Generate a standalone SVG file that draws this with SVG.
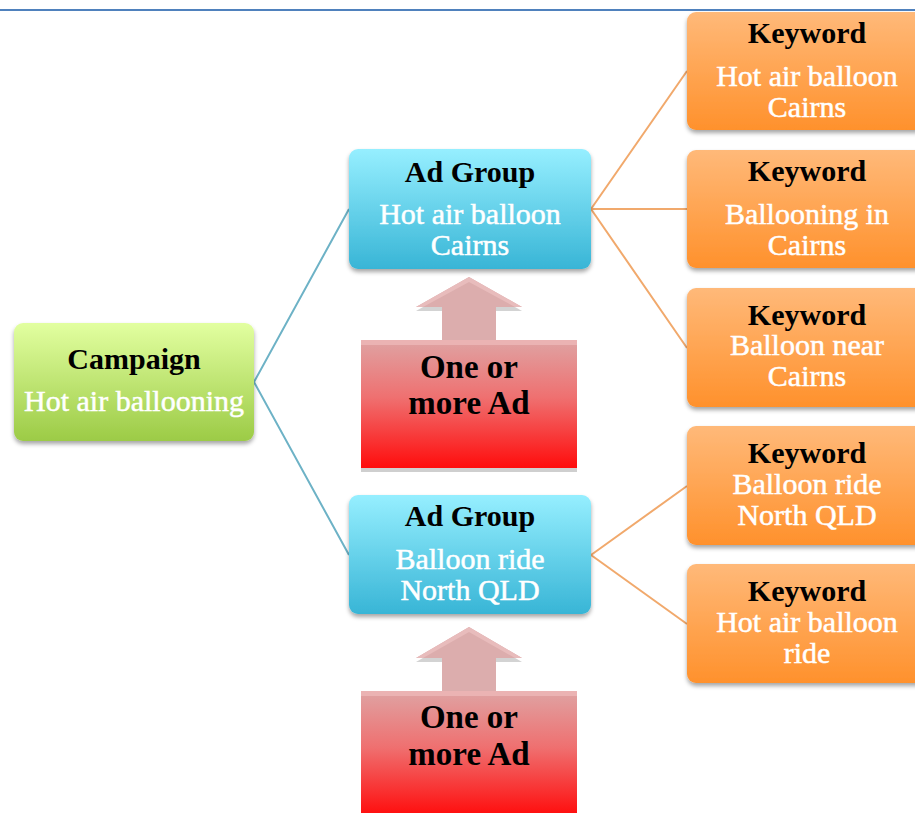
<svg xmlns="http://www.w3.org/2000/svg" width="915" height="813" viewBox="0 0 915 813">
<defs>
<linearGradient id="gGreen" x1="0" y1="0" x2="0" y2="1"><stop offset="0" stop-color="#e2ffa0"/><stop offset="1" stop-color="#9ccb46"/></linearGradient>
<linearGradient id="gBlue" x1="0" y1="0" x2="0" y2="1"><stop offset="0" stop-color="#96efff"/><stop offset="1" stop-color="#38b5d6"/></linearGradient>
<linearGradient id="gOrange" x1="0" y1="0" x2="0" y2="1"><stop offset="0" stop-color="#ffb979"/><stop offset="1" stop-color="#ff912c"/></linearGradient>
<linearGradient id="gRed" x1="0" y1="0" x2="0" y2="1"><stop offset="0" stop-color="#dfa3a3"/><stop offset="0.45" stop-color="#ef7070"/><stop offset="1" stop-color="#ff0c0c"/></linearGradient>
<filter id="sh" x="-10%" y="-10%" width="120%" height="130%"><feDropShadow dx="0" dy="3" stdDeviation="2" flood-color="#000" flood-opacity="0.35"/></filter>
</defs>
<style>
.t{font-family:"Liberation Serif","Times New Roman",serif;font-size:30px;font-weight:bold;fill:#000;text-anchor:middle}
.w{font-family:"Liberation Serif","Times New Roman",serif;font-size:30px;fill:#fff;stroke:#fff;stroke-width:0.5;text-anchor:middle}
.big{font-family:"Liberation Serif","Times New Roman",serif;font-size:33px;font-weight:bold;fill:#000;text-anchor:middle}
.cb{fill:none;stroke:#6db2c6;stroke-width:2}
.co{fill:none;stroke:#f1a96c;stroke-width:2}
.kw{fill:url(#gOrange);filter:url(#sh)}
</style>
<rect width="915" height="813" fill="#fff"/>
<line x1="0" y1="10" x2="915" y2="10" stroke="#4f81bd" stroke-width="2.2"/>
<g id="connectors">
<path class="cb" d="M254 382 L349 209 M254 382 L349 555"/>
<path class="co" d="M591 209 L687 71 M591 209 L687 209 M591 209 L687 348"/>
<path class="co" d="M591 555 L687 486 M591 555 L687 624"/>
</g>
<g id="campaign">
<rect x="14" y="323" width="240" height="118" rx="9" fill="url(#gGreen)" filter="url(#sh)"/>
<text class="t" x="134" y="369">Campaign</text>
<text class="w" x="134" y="411">Hot air ballooning</text>
</g>
<g id="adgroup1">
<rect x="349" y="149" width="242" height="120" rx="9" fill="url(#gBlue)" filter="url(#sh)"/>
<text class="t" x="470" y="182">Ad Group</text>
<text class="w" x="470" y="224">Hot air balloon</text>
<text class="w" x="470" y="255">Cairns</text>
</g>
<g id="adgroup2">
<rect x="349" y="495" width="242" height="119" rx="9" fill="url(#gBlue)" filter="url(#sh)"/>
<text class="t" x="470" y="526">Ad Group</text>
<text class="w" x="470" y="569">Balloon ride</text>
<text class="w" x="470" y="600">North QLD</text>
</g>
<g id="ads1">
<path d="M469 281 L522 311 L496 311 L496 344 L442 344 L442 311 L416 311 Z" fill="#c8c8c8" opacity="0.8"/>
<path d="M469 277 L522 307 L496 307 L496 340 L442 340 L442 307 L416 307 Z" fill="#dcadad"/>
<path d="M469 277 L522 307 L515 307 L469 282 L423 307 L416 307 Z" fill="#e8bcbc"/>
<rect x="361" y="343" width="216" height="129" fill="#cfcfcf"/>
<rect x="361" y="340" width="216" height="128" fill="url(#gRed)"/>
<rect x="361" y="340" width="216" height="5" fill="#ebb3b3"/>
<text class="big" x="469" y="378">One or</text>
<text class="big" x="469" y="414">more Ad</text>
</g>
<g id="ads2">
<path d="M469 631 L522 662 L496 662 L496 695 L442 695 L442 662 L416 662 Z" fill="#c8c8c8" opacity="0.8"/>
<path d="M469 627 L522 658 L496 658 L496 691 L442 691 L442 658 L416 658 Z" fill="#dcadad"/>
<path d="M469 627 L522 658 L515 658 L469 632 L423 658 L416 658 Z" fill="#e8bcbc"/>
<rect x="361" y="691" width="216" height="125" fill="url(#gRed)"/>
<rect x="361" y="691" width="216" height="5" fill="#ebb3b3"/>
<text class="big" x="469" y="728">One or</text>
<text class="big" x="469" y="765">more Ad</text>
</g>
<g id="kw1">
<rect class="kw" x="687" y="12" width="244" height="118" rx="9"/>
<text class="t" x="807" y="43">Keyword</text>
<text class="w" x="807" y="86">Hot air balloon</text>
<text class="w" x="807" y="117">Cairns</text>
</g>
<g id="kw2">
<rect class="kw" x="687" y="150" width="244" height="118" rx="9"/>
<text class="t" x="807" y="181">Keyword</text>
<text class="w" x="807" y="224">Ballooning in</text>
<text class="w" x="807" y="255">Cairns</text>
</g>
<g id="kw3">
<rect class="kw" x="687" y="288" width="244" height="119" rx="9"/>
<text class="t" x="807" y="325">Keyword</text>
<text class="w" x="807" y="355">Balloon near</text>
<text class="w" x="807" y="386">Cairns</text>
</g>
<g id="kw4">
<rect class="kw" x="687" y="426" width="244" height="119" rx="9"/>
<text class="t" x="807" y="463">Keyword</text>
<text class="w" x="807" y="494">Balloon ride</text>
<text class="w" x="807" y="525">North QLD</text>
</g>
<g id="kw5">
<rect class="kw" x="687" y="564" width="244" height="119" rx="9"/>
<text class="t" x="807" y="601">Keyword</text>
<text class="w" x="807" y="632">Hot air balloon</text>
<text class="w" x="807" y="663">ride</text>
</g>
</svg>
